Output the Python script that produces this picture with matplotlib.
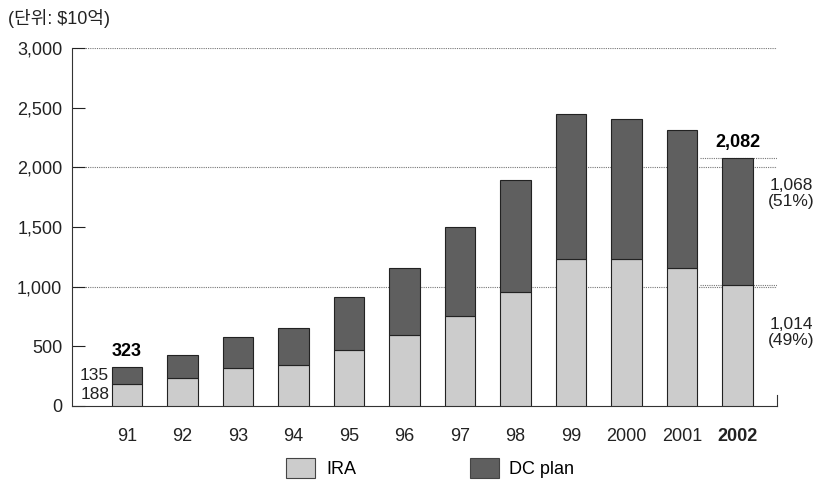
import matplotlib
matplotlib.use("Agg")
import matplotlib.pyplot as plt
from matplotlib.patches import Patch

plt.rcParams['font.family'] = ['Liberation Sans', 'Noto Sans CJK KR', 'DejaVu Sans']

years = ['91', '92', '93', '94', '95', '96', '97', '98', '99', '2000', '2001', '2002']
ira = [188, 235, 318, 344, 469, 595, 754, 956, 1232, 1232, 1157, 1014]
dc = [135, 192, 260, 310, 445, 562, 746, 938, 1216, 1174, 1156, 1068]
yticks = [0, 500, 1000, 1500, 2000, 2500, 3000]
ytick_labels = ['0', '500', '1,000', '1,500', '2,000', '2,500', '3,000']

fig = plt.figure(figsize=(8.29, 4.83), dpi=100)
ax = fig.add_axes([72/829, 1-406/483, (777-72)/829, (406-48)/483])

x = list(range(len(years)))
ira_c = '#cccccc'
dc_c = '#5f5f5f'
w = 0.55
ax.bar(x, ira, width=w, color=ira_c, edgecolor='#222222', linewidth=0.8, zorder=3)
ax.bar(x, dc, width=w, bottom=ira, color=dc_c, edgecolor='#222222', linewidth=0.8, zorder=3)

ax.set_xlim(-0.99, 11.71)
ax.set_ylim(0, 3000)
for gy in [1000, 2000, 3000]:
    ax.axhline(gy, color='#777777', linestyle=(0, (1, 1)), linewidth=0.8, zorder=1)

last = len(years) - 1
for yv in [ira[last], ira[last] + dc[last]]:
    ax.hlines(yv, last - 0.68, 11.71, color='#777777', linestyle=(0, (1, 1)), linewidth=0.8, zorder=1)

ax.spines['top'].set_visible(False)
ax.spines['right'].set_visible(False)
ax.spines['left'].set_color('#333333')
ax.spines['bottom'].set_color('#333333')
ax.plot([11.71, 11.71], [0, 90], color='#333333', lw=0.8, clip_on=False)

fs = 13
ax.set_yticks(yticks)
ax.set_yticklabels(ytick_labels)
ax.tick_params(axis='y', direction='in', length=9, width=0.8, pad=7, labelsize=fs, colors='#222222')
ax.set_xticks(x)
ax.set_xticklabels(years)
ax.tick_params(axis='x', length=0, pad=16, labelsize=fs, colors='#222222')
ax.get_xticklabels()[-1].set_fontweight('bold')

tot0 = ira[0] + dc[0]
ax.text(0, tot0 + 60, f'{tot0:,}', ha='center', va='bottom', fontsize=fs, fontweight='bold')
ax.text(-0.32, ira[0] + dc[0] / 2, f'{dc[0]}', ha='right', va='center', fontsize=12.5, color='#222222')
ax.text(-0.32, ira[0] / 2, f'{ira[0]}', ha='right', va='center', fontsize=12.5, color='#222222')

totl = ira[last] + dc[last]
ax.text(last, totl + 55, f'{totl:,}', ha='center', va='bottom', fontsize=fs, fontweight='bold')
ax.text(last + 0.96, ira[last] + dc[last] / 2 + 230, f'{dc[last]:,}\n({round(100*dc[last]/totl)}%)',
        ha='center', va='center', fontsize=12.5, color='#222222', clip_on=False, linespacing=1.1)
ax.text(last + 0.96, ira[last] / 2 + 110, f'{ira[last]:,}\n({round(100*ira[last]/totl)}%)',
        ha='center', va='center', fontsize=12.5, color='#222222', clip_on=False, linespacing=1.1)

fig.text(8/829, 1-18/483, '(단위: $10억)', ha='left', va='center', fontsize=fs, color='#222222')

handles = [Patch(facecolor=ira_c, edgecolor='#444444', linewidth=0.8),
           Patch(facecolor=dc_c, edgecolor='#444444', linewidth=0.8)]
fig.legend(handles, ['IRA', 'DC plan'], loc='center', bbox_to_anchor=(0.519, 1-468/483), ncol=2,
           frameon=False, fontsize=fs, handlelength=1.6, handleheight=1.4, columnspacing=6.3, handletextpad=0.6)

fig.savefig('out.png', dpi=100)
